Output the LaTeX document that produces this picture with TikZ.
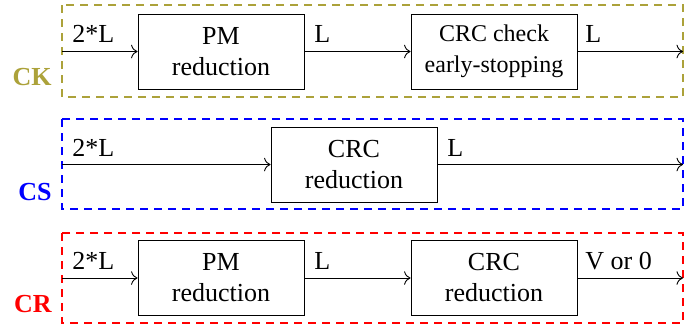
\documentclass[tikz,border=0pt]{standalone}
\usepackage{fontspec}
\setmainfont{Liberation Serif}
\usetikzlibrary{positioning,arrows.meta}
\definecolor{ckcol}{RGB}{172,162,58}

\begin{document}
\begin{tikzpicture}[x=0.5pt,y=-0.5pt,
	font=\fontsize{13}{15.5}\selectfont,
	>={To[scale=1.25]},
	blk/.style={draw,line width=0.45pt,minimum width=83pt,minimum height=37.5pt,align=center,inner sep=0pt},
	grp/.style={line width=1pt,dash pattern=on 4pt off 3pt},
	lbl/.style={anchor=base west,inner sep=0pt},
	tag/.style={anchor=base east,inner sep=0pt,font=\fontsize{13}{15.5}\selectfont\bfseries}]
	\useasboundingbox (0,0) rectangle (700,328);
	% CK
	\draw[grp,draw=ckcol] (62,5) rectangle (683,97);
	\node[tag,text=ckcol] (ck) at (52,85) {CK};
	\coordinate (in1) at (62,51.5);
	\coordinate (out1) at (683,51.5);
	\node[blk] (pm1) at (221,51.5) {PM\\reduction};
	\node[blk,font=\fontsize{12}{15.5}\selectfont] (chk1) at (494,51.5) {CRC check\\early-stopping};
	\draw[->,line width=0.45pt] (in1) -- (pm1);
	\draw[->,line width=0.45pt] (pm1) -- (chk1);
	\draw[->,line width=0.45pt] (chk1) -- (out1);
	\node[lbl] (a1) at (72,42) {2*L};
	\node[lbl] (b1) at (314,42) {L};
	\node[lbl] (c1) at (585,42) {L};
	% CS
	\draw[grp,draw=blue] (62,119) rectangle (683,209);
	\node[tag,text=blue] (cs) at (52,200) {CS};
	\coordinate (in2) at (62,164.5);
	\coordinate (out2) at (683,164.5);
	\node[blk] (crc2) at (354,164.5) {CRC\\reduction};
	\draw[->,line width=0.45pt] (in2) -- (crc2);
	\draw[->,line width=0.45pt] (crc2) -- (out2);
	\node[lbl] (a2) at (72,156) {2*L};
	\node[lbl] (b2) at (447,156) {L};
	% CR
	\draw[grp,draw=red] (62,233) rectangle (683,323);
	\node[tag,text=red] (cr) at (52,312) {CR};
	\coordinate (in3) at (62,278);
	\coordinate (out3) at (683,278);
	\node[blk] (pm3) at (221,278) {PM\\reduction};
	\node[blk] (crc3) at (494,278) {CRC\\reduction};
	\draw[->,line width=0.45pt] (in3) -- (pm3);
	\draw[->,line width=0.45pt] (pm3) -- (crc3);
	\draw[->,line width=0.45pt] (crc3) -- (out3);
	\node[lbl] (a3) at (72,269) {2*L};
	\node[lbl] (b3) at (314,269) {L};
	\node[lbl] (c3) at (585,269) {V or 0};
\end{tikzpicture}
\end{document}
